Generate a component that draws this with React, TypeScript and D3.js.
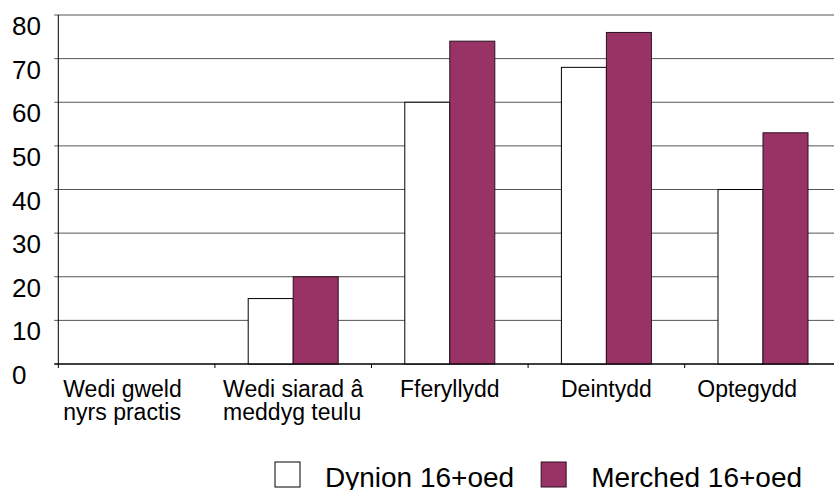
import React from "react";
import * as d3 from "d3";

const categories: string[][] = [
  ["Wedi gweld", "nyrs practis"],
  ["Wedi siarad â", "meddyg teulu"],
  ["Fferyllydd"],
  ["Deintydd"],
  ["Optegydd"],
];
const seriesNames = ["Dynion 16+oed", "Merched 16+oed"];
const dynion = [0, 15, 60, 68, 40];
const merched = [0, 20, 74, 76, 53];
const yTicks = [0, 10, 20, 30, 40, 50, 60, 70, 80];

const W = 834;
const H = 490;
const FONT = "'Liberation Sans', Arial, sans-serif";
const PURPLE = "#993366";
const colors = ["#ffffff", PURPLE];

let ctx: CanvasRenderingContext2D | null = null;
function textWidth(t: string, size: number) {
  if (!ctx) ctx = document.createElement("canvas").getContext("2d");
  if (!ctx) return t.length * size * 0.5;
  ctx.font = `${size}px 'Liberation Sans', Arial, sans-serif`;
  return ctx.measureText(t).width;
}

export default function App() {
  const left = 58.3;
  const top = 15;
  const bottom = 364;
  const step = 156.6;
  const x = d3
    .scaleBand<number>()
    .domain(categories.map((_, i) => i))
    .range([left, left + step * categories.length])
    .paddingInner(0)
    .paddingOuter(0);
  const xi = d3
    .scaleBand<number>()
    .domain([0, 1])
    .range([0, x.bandwidth()])
    .paddingInner(0)
    .paddingOuter(0.74);
  const y = d3.scaleLinear().domain([0, 80]).range([bottom, top]);
  const series = [dynion, merched];

  const xLabelSize = 23;
  const labelMax = 797;

  // legend layout
  const legSize = 28;
  const legY = 462;
  let lx = 275;
  const legendItems = seriesNames.map((name, i) => {
    const item = { name, i, x: lx };
    lx += 25 + 25 + textWidth(name, legSize) + 27;
    return item;
  });

  return (
    <svg
      width={W}
      height={H}
      style={{ position: "absolute", left: 0, top: 0, background: "#fff" }}
      fontFamily={FONT}
    >
      <rect width={W} height={H} fill="#fff" />
      {yTicks.map((t) => (
        <g key={t}>
          <line
            x1={left - 4}
            x2={W}
            y1={y(t)}
            y2={y(t)}
            stroke={t === 0 ? "#000" : "#555"}
            strokeWidth={1}
          />
          <text x={12} y={y(t) + 20} fontSize={26} fill="#000">
            {t}
          </text>
        </g>
      ))}
      {categories.map((_, ci) =>
        series.map((s, si) =>
          s[ci] > 0 ? (
            <rect
              key={`${ci}-${si}`}
              x={(x(ci) as number) + (xi(si) as number)}
              y={y(s[ci])}
              width={xi.bandwidth()}
              height={bottom - y(s[ci])}
              fill={colors[si]}
              stroke={si === 0 ? "#000" : "#2a1020"}
              strokeWidth={1}
            />
          ) : null
        )
      )}
      <line x1={left} x2={left} y1={top} y2={bottom} stroke="#000" />
      <line x1={left - 4} x2={W} y1={bottom} y2={bottom} stroke="#000" />
      {d3.range(categories.length + 1).map((i) => {
        const tx = left + i * x.step();
        return <line key={i} x1={tx} x2={tx} y1={bottom} y2={bottom + 4} stroke="#000" />;
      })}
      {categories.map((lines, ci) => {
        const bw = Math.max(...lines.map((l) => textWidth(l, xLabelSize)));
        const c = (x(ci) as number) + x.bandwidth() / 2;
        let lx0 = c - bw / 2;
        if (ci === 0) lx0 = (x(ci) as number) + 5;
        if (lx0 + bw > labelMax) lx0 = labelMax - bw;
        return (
          <text key={ci} fontSize={xLabelSize} fill="#000">
            {lines.map((l, li) => (
              <tspan key={li} x={lx0} y={396.7 + li * 23.5}>
                {l}
              </tspan>
            ))}
          </text>
        );
      })}
      {legendItems.map((it) => (
        <g key={it.name}>
          <rect
            x={it.x}
            y={legY}
            width={25}
            height={25}
            fill={colors[it.i]}
            stroke={it.i === 0 ? "#000" : "#2a1020"}
          />
          <text x={it.x + 50} y={486.5} fontSize={legSize} fill="#000">
            {it.name}
          </text>
        </g>
      ))}
    </svg>
  );
}
